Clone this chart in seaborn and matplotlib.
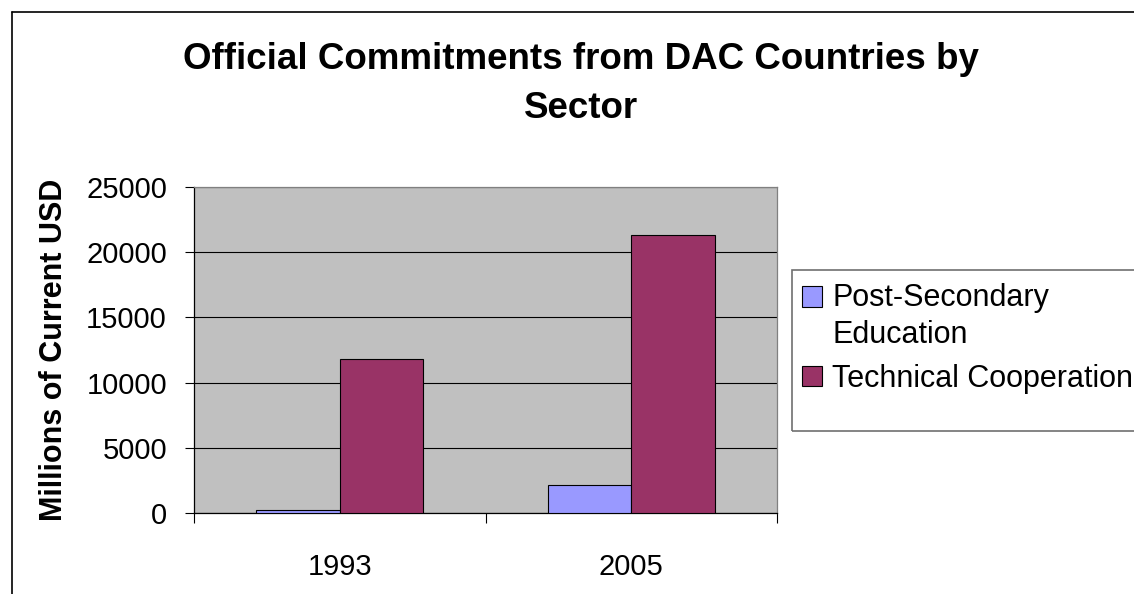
import matplotlib
matplotlib.use("Agg")
import matplotlib.pyplot as plt
from matplotlib.legend_handler import HandlerPatch
from matplotlib.lines import Line2D
from matplotlib.patches import Rectangle
import pandas as pd
import seaborn as sns

# Chart data (millions of current USD)
years = ["1993", "2005"]
post_secondary = [250, 2150]
technical_coop = [11800, 21300]
series_names = ["Post-Secondary Education", "Technical Cooperation"]
legend_labels = ["Post-Secondary\nEducation", "Technical Cooperation"]
y_ticks = [0, 5000, 10000, 15000, 20000, 25000]

df = pd.DataFrame({
    "year": years * 2,
    "sector": [series_names[0]] * len(years) + [series_names[1]] * len(years),
    "value": post_secondary + technical_coop,
})

sns.set_style("white")
plt.rcParams["font.family"] = ["Liberation Sans", "DejaVu Sans"]
plt.rcParams["text.color"] = "black"
plt.rcParams["axes.labelcolor"] = "black"
plt.rcParams["xtick.color"] = "black"
plt.rcParams["ytick.color"] = "black"

W, H = 1134, 594
fig = plt.figure(figsize=(W / 100, H / 100), dpi=100)
ax = fig.add_axes([194 / W, 1 - 513 / H, 583 / W, 326 / H])

sns.barplot(
    data=df, x="year", y="value", hue="sector", order=years, hue_order=series_names,
    palette=["#9999FF", "#993366"], saturation=1, width=0.574, errorbar=None,
    edgecolor="black", linewidth=0.8, ax=ax, zorder=3,
)

ax.set_facecolor("#C0C0C0")
ax.set_xlim(-0.5, 1.5)
ax.set_ylim(0, 25000)
ax.set_yticks(y_ticks)
ax.set_yticklabels([str(t) for t in y_ticks])
ax.yaxis.grid(True, color="black", linewidth=0.8)
ax.set_axisbelow(True)

ax.spines["left"].set_color("black")
ax.spines["bottom"].set_color("black")
ax.spines["top"].set_color("#808080")
ax.spines["right"].set_color("#808080")
for s in ax.spines.values():
    s.set_linewidth(0.9)

ax.tick_params(axis="y", direction="out", length=6.5, width=0.8, color="black",
               pad=13, labelsize=21, left=True)
ax.tick_params(axis="x", which="major", length=0, pad=29, labelsize=21)
ax.set_xticks([-0.5, 0.5, 1.5], minor=True)
ax.tick_params(axis="x", which="minor", direction="out", length=7.2, width=0.8,
               color="black", bottom=True)
ax.set_xlabel("")
ax.set_ylabel("Millions of Current USD", fontsize=22, fontweight="bold")
ax.yaxis.set_label_coords(-0.215, 0.5)

# title
fig.text(581 / W, 1 - 42 / H, "Official Commitments from DAC Countries by\nSector",
         ha="center", va="top", fontsize=26.5, fontweight="bold", linespacing=1.5)


# first legend marker sits next to the first line of its wrapped label
def upper_patch(legend, orig_handle, xdescent, ydescent, width, height, fontsize):
    return Rectangle((-xdescent, -ydescent + 0.69 * fontsize), width, height)


leg_old = ax.get_legend()
handles = leg_old.legend_handles
leg_old.remove()
leg = ax.legend(
    handles, legend_labels, loc="upper left",
    bbox_to_anchor=(802 / W, 1 - 283 / H), bbox_transform=fig.transFigure,
    frameon=False, borderpad=0, borderaxespad=0, fontsize=22,
    handlelength=0.66, handleheight=0.66, handletextpad=0.33, labelspacing=0.45,
    handler_map={handles[0]: HandlerPatch(patch_func=upper_patch)},
)
for t in leg.get_texts():
    t.set_linespacing(1.31)
for h in leg.legend_handles:
    h.set_edgecolor("black")
    h.set_linewidth(0.8)

fig.patches.append(Rectangle((792 / W, 1 - 431 / H), 400 / W, 161 / H,
                             transform=fig.transFigure, facecolor="none",
                             edgecolor="#707070", linewidth=1.2))

# chart area border (cropped on right and bottom)
fig.lines.append(Line2D([12 / W, 12 / W], [1 - 12 / H, 0], transform=fig.transFigure,
                        color="black", linewidth=1.2))
fig.lines.append(Line2D([12 / W, 1], [1 - 12 / H, 1 - 12 / H], transform=fig.transFigure,
                        color="black", linewidth=1.2))

fig.savefig("out.png", dpi=100)
